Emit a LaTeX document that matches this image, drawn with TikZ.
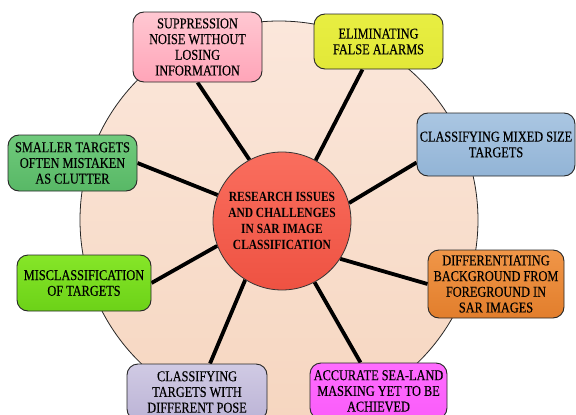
\documentclass[tikz,border=0pt]{standalone}
\usepackage{fontspec}
\setmainfont[FakeStretch=0.82]{Liberation Serif}
\newfontfamily\boxfont[FakeStretch=0.82, FakeBold=0.3]{Liberation Serif}
\usetikzlibrary{calc}

\definecolor{discTop}{RGB}{251,231,219}
\definecolor{discBot}{RGB}{246,214,192}
\definecolor{hubTop}{RGB}{250,110,94}
\definecolor{hubBot}{RGB}{238,82,66}
\definecolor{pinkTop}{RGB}{255,200,210}
\definecolor{pinkBot}{RGB}{255,164,184}
\definecolor{yelTop}{RGB}{232,238,66}
\definecolor{yelBot}{RGB}{226,232,56}
\definecolor{grnTop}{RGB}{112,202,124}
\definecolor{grnBot}{RGB}{88,184,102}
\definecolor{bluTop}{RGB}{170,198,226}
\definecolor{bluBot}{RGB}{146,180,214}
\definecolor{ornTop}{RGB}{240,150,72}
\definecolor{ornBot}{RGB}{226,126,44}
\definecolor{limTop}{RGB}{134,230,40}
\definecolor{limBot}{RGB}{108,210,24}
\definecolor{lavTop}{RGB}{208,202,228}
\definecolor{lavBot}{RGB}{188,180,214}
\definecolor{magTop}{RGB}{255,108,255}
\definecolor{magBot}{RGB}{250,92,250}

\pgfdeclarelayer{disc}
\pgfdeclarelayer{links}
\pgfsetlayers{disc,links,main}

\begin{document}
\begin{tikzpicture}[x=1pt,y=-1pt,
  issue/.style={draw=black!85, line width=0.9pt, rounded corners=11pt,
    align=center, inner sep=2pt,
    font=\boxfont\fontsize{15}{15.7}\selectfont},
  hub/.style={circle, draw=black!80, line width=0.8pt, minimum size=138pt,
    inner sep=0pt, align=center, top color=hubTop, bottom color=hubBot,
    font=\fontsize{14}{15.9}\selectfont\bfseries},
  link/.style={line width=3.8pt, black},
]
\useasboundingbox (0,0) rectangle (576,415);
\clip (0,0) rectangle (576,415);

% central hub
\node[hub] (c) at (282,221) {RESEARCH ISSUES\\AND CHALLENGES\\IN SAR IMAGE\\CLASSIFICATION};

% surrounding issues
\node[issue, minimum width=129pt, minimum height=70pt, top color=pinkTop, bottom color=pinkBot]
  (b1) at (197.5,47) {SUPPRESSION\\NOISE WITHOUT\\LOSING\\INFORMATION};
\node[issue, minimum width=129pt, minimum height=55pt, top color=yelTop, bottom color=yelBot]
  (b2) at (378.5,41.5) {ELIMINATING\\FALSE ALARMS};
\node[issue, minimum width=129pt, minimum height=56pt, top color=grnTop, bottom color=grnBot]
  (b3) at (72.5,163) {SMALLER TARGETS\\OFTEN MISTAKEN\\AS CLUTTER};
\node[issue, minimum width=158pt, minimum height=63pt, top color=bluTop, bottom color=bluBot]
  (b4) at (496,144.5) {CLASSIFYING MIXED SIZE\\TARGETS};
\node[issue, minimum width=136pt, minimum height=68pt, top color=ornTop, bottom color=ornBot]
  (b5) at (496,284) {DIFFERENTIATING\\BACKGROUND FROM\\FOREGROUND IN\\SAR IMAGES};
\node[issue, minimum width=134pt, minimum height=56pt, top color=limTop, bottom color=limBot]
  (b6) at (84,283) {MISCLASSIFICATION\\OF TARGETS};
\node[issue, minimum width=140pt, minimum height=56pt, top color=lavTop, bottom color=lavBot]
  (b7) at (197,392) {CLASSIFYING\\TARGETS WITH\\DIFFERENT POSE};
\node[issue, minimum width=137pt, minimum height=56pt, top color=magTop, bottom color=magBot]
  (b8) at (378.5,391) {ACCURATE SEA-LAND\\MASKING YET TO BE\\ACHIEVED};

% large backing disc
\begin{pgfonlayer}{disc}
  \node[circle, draw=black!85, line width=0.8pt, minimum size=398pt, inner sep=0pt,
    top color=discTop, bottom color=discBot] (disc) at (279,220) {};
\end{pgfonlayer}

% spokes
\begin{pgfonlayer}{links}
  \draw[link] (c.118) -- (b1.south);
  \draw[link] (c.61) -- ($(b2.south)+(-16,0)$);
  \draw[link] (c.158) -- (b3.east);
  \draw[link] (c.15.6) -- ($(b4.west)+(0,18)$);
  \draw[link] (c.201.7) -- (b6.east);
  \draw[link] (c.-33.5) -- (b5.west);
  \draw[link] (c.238.4) -- ($(b7.north)+(13,0)$);
  \draw[link] (c.-62) -- ($(b8.north)+(-18,0)$);
\end{pgfonlayer}
\end{tikzpicture}
\end{document}
